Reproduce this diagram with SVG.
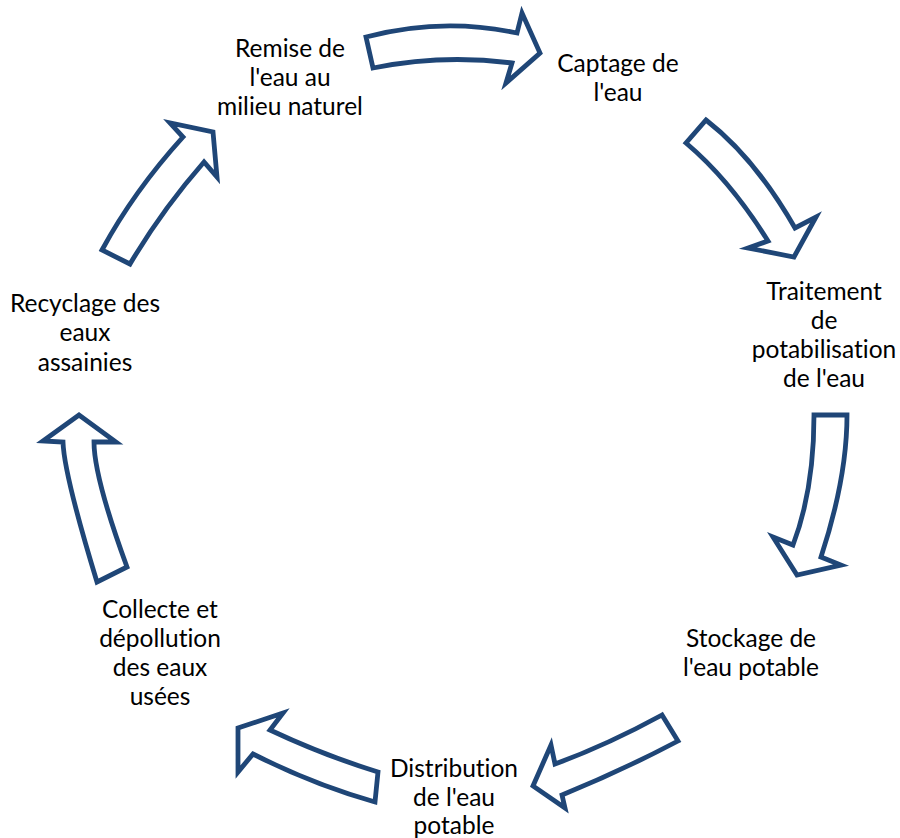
<svg xmlns="http://www.w3.org/2000/svg" width="900" height="838" viewBox="0 0 900 838">
<style>
.arr{fill:#ffffff;stroke:#1f4677;stroke-width:4.8;stroke-linejoin:miter}
.lbl{font-family:Lato,"Liberation Sans",sans-serif;font-size:24.5px;fill:#000;text-anchor:middle;font-variant-ligatures:none;font-feature-settings:"liga" 0,"dlig" 0}
</style>
<rect width="900" height="838" fill="#fff"/>
<g id="connectors">
<path id="a1" class="arr" d="M366,37 Q442,17 517,33 L522,13 L540,53 L506,83 L512,63 Q442,54 373,68 Z"/>
<path id="a2" class="arr" d="M706,120 Q755,158 795,228 L816,217 L794,257 L748,248 L768,241 Q730,180 686,143 Z"/>
<path id="a3" class="arr" d="M847,415 Q847,478 821,557 L841,565 L797,575 L773,537 L793,545 Q814,490 814,415 Z"/>
<path id="a4" class="arr" d="M662,715 Q607,745 555,764 L551,745 L533,786 L565,808 L562,795 Q623,770 678,741 Z"/>
<path id="a5" class="arr" d="M378,772 Q323,755 270,730 L283,713 L238,728 L238,772 L253,754 Q312,784 375,802 Z"/>
<path id="a6" class="arr" d="M97,582 Q64,474 63,442 L43,441 L79,415 L116,442 L94,442 Q94,477 127,567 Z"/>
<path id="a7" class="arr" d="M102,250 Q134,191 183,137 L170,123 L213,132 L217,177 L204,162 Q162,210 130,264 Z"/>
</g>
<g id="n-remise"><text class="lbl" x="290" y="57">Remise de</text><text class="lbl" x="290" y="86">l'eau au</text><text class="lbl" x="290" y="115">milieu naturel</text></g>
<g id="n-captage"><text class="lbl" x="618" y="72">Captage de</text><text class="lbl" x="618" y="101">l'eau</text></g>
<g id="n-traitement"><text class="lbl" x="824" y="300">Traitement</text><text class="lbl" x="824" y="329">de</text><text class="lbl" x="824" y="358">potabilisation</text><text class="lbl" x="824" y="387">de l'eau</text></g>
<g id="n-stockage"><text class="lbl" x="751" y="647">Stockage de</text><text class="lbl" x="751" y="676">l'eau potable</text></g>
<g id="n-distribution"><text class="lbl" x="454" y="777">Distribution</text><text class="lbl" x="454" y="806">de l'eau</text><text class="lbl" x="454" y="834">potable</text></g>
<g id="n-collecte"><text class="lbl" x="160" y="618">Collecte et</text><text class="lbl" x="160" y="647">dépollution</text><text class="lbl" x="160" y="676">des eaux</text><text class="lbl" x="160" y="705">usées</text></g>
<g id="n-recyclage"><text class="lbl" x="85" y="312">Recyclage des</text><text class="lbl" x="85" y="341">eaux</text><text class="lbl" x="85" y="371">assainies</text></g>
</svg>
